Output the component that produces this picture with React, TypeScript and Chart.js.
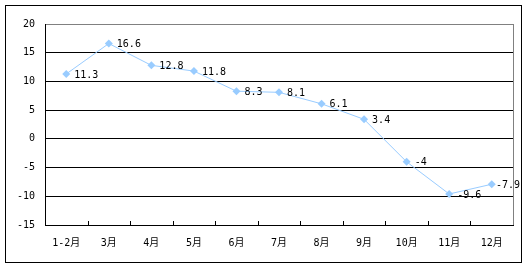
import React, { useEffect, useRef } from "react";
import { Chart, registerables } from "chart.js";

Chart.register(...registerables);

const categories = ["1-2月", "3月", "4月", "5月", "6月", "7月", "8月", "9月", "10月", "11月", "12月"];
const values = [11.3, 16.6, 12.8, 11.8, 8.3, 8.1, 6.1, 3.4, -4, -9.6, -7.9];
const yMin = -15;
const yMax = 20;
const yStep = 5;

const FONT = "'DejaVu Sans Mono', 'Noto Sans CJK SC', monospace";

const framePlugin = {
  id: "frame",
  beforeDraw(chart: any) {
    const ctx = chart.ctx;
    ctx.save();
    ctx.fillStyle = "#ffffff";
    ctx.fillRect(0, 0, chart.width, chart.height);
    ctx.strokeStyle = "#000000";
    ctx.lineWidth = 1;
    ctx.strokeRect(5.5, 5.5, 516, 257);
    ctx.restore();
  },
  afterDraw(chart: any) {
    const { ctx, chartArea } = chart;
    ctx.save();
    ctx.strokeStyle = "#808080";
    ctx.lineWidth = 1;
    ctx.beginPath();
    const r = Math.round(chartArea.right) + 0.5;
    ctx.moveTo(r, chartArea.top);
    ctx.lineTo(r, chartArea.bottom);
    ctx.stroke();
    // inward category-boundary ticks on x axis
    const xs = chart.scales.x;
    const n = categories.length;
    ctx.strokeStyle = "#000000";
    ctx.beginPath();
    for (let i = 1; i < n; i++) {
      const px = Math.round((xs.getPixelForTick(i - 1) + xs.getPixelForTick(i)) / 2) + 0.5;
      ctx.moveTo(px, chartArea.bottom);
      ctx.lineTo(px, chartArea.bottom - 4);
    }
    ctx.stroke();
    ctx.restore();
  },
};

const labelPlugin = {
  id: "valueLabels",
  afterDatasetsDraw(chart: any) {
    const ctx = chart.ctx;
    const meta = chart.getDatasetMeta(0);
    ctx.save();
    ctx.font = "10px " + FONT;
    ctx.fillStyle = "#000000";
    ctx.textBaseline = "middle";
    ctx.textAlign = "left";
    meta.data.forEach((pt: any, i: number) => {
      const txt = String(values[i]);
      const w = ctx.measureText(txt).width;
      let x = pt.x + 8;
      if (x + w > 520) x = 520 - w;
      ctx.fillText(txt, x, pt.y + 1);
    });
    ctx.restore();
  },
};

export default function App() {
  const ref = useRef<HTMLCanvasElement>(null);
  useEffect(() => {
    document.body.style.margin = "0";
    const chart = new Chart(ref.current!, {
      type: "line",
      data: {
        labels: categories,
        datasets: [
          {
            data: values,
            borderColor: "#99CCFF",
            backgroundColor: "#99CCFF",
            borderWidth: 1,
            pointStyle: "rectRot",
            pointRadius: 4,
            pointBorderWidth: 0,
            tension: 0,
          },
        ],
      },
      options: {
        animation: false,
        responsive: false,
        devicePixelRatio: 1,
        layout: { padding: { left: 0, right: 16, top: 24, bottom: 0 } },
        plugins: { legend: { display: false }, tooltip: { enabled: false } },
        scales: {
          x: {
            offset: true,
            grid: {
              offset: true,
              drawOnChartArea: false,
              drawTicks: false,
              color: "#000000",
            },
            border: { color: "#000000" },
            ticks: { color: "#000000", font: { size: 10, family: FONT }, padding: 12, maxRotation: 0, autoSkip: false },
            afterFit: (s: any) => {
              s.height = 45;
            },
          },
          y: {
            min: yMin,
            max: yMax,
            grid: {
              drawTicks: false,
              color: (c: any) => (c.tick && c.tick.value === yMax ? "#808080" : "#000000"),
            },
            border: { color: "#000000" },
            ticks: { stepSize: yStep, color: "#000000", font: { size: 10, family: FONT }, padding: 10 },
            afterFit: (s: any) => {
              s.width = 45;
            },
          },
        },
      },
      plugins: [framePlugin, labelPlugin],
    });
    return () => chart.destroy();
  }, []);
  return (
    <div style={{ width: 529, height: 270 }}>
      <canvas ref={ref} width={529} height={270} style={{ display: "block" }} />
    </div>
  );
}
